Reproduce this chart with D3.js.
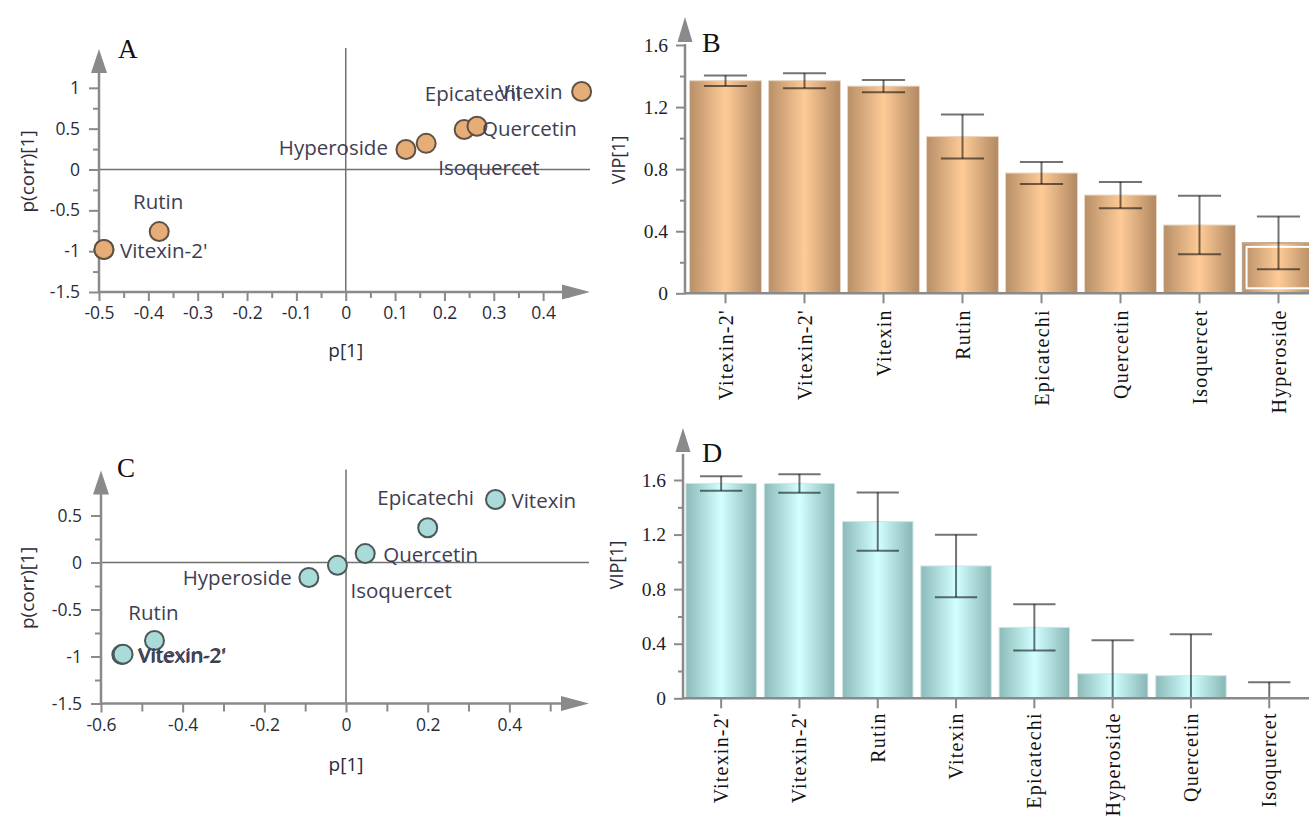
<!DOCTYPE html>
<html>
<head>
<meta charset="utf-8">
<script src="https://cdn.jsdelivr.net/npm/d3@7"></script>
<style>
  html, body { margin: 0; padding: 0; background: #fff; }
  svg { display: block; }
</style>
</head>
<body>
<svg id="fig" width="1309" height="817"></svg>
<script>
// ---- Loadings (p[1] vs p(corr)[1]) for the two OPLS-DA models ----
const compoundsA = ["Vitexin", "Epicatechi", "Quercetin", "Isoquercet", "Hyperoside", "Rutin", "Vitexin-2'", "Vitexin-2'"];
const pA     = [0.478, 0.240, 0.266, 0.163, 0.122, -0.378, -0.490, -0.490];
const pcorrA = [0.955, 0.490, 0.530, 0.320, 0.245, -0.760, -0.980, -0.980];

const compoundsC = ["Vitexin", "Epicatechi", "Quercetin", "Isoquercet", "Hyperoside", "Rutin", "Vitexin-2'", "Vitexin-2'"];
const pC     = [0.366, 0.200, 0.047, -0.021, -0.091, -0.469, -0.549, -0.546];
const pcorrC = [0.670, 0.370, 0.095, -0.030, -0.160, -0.830, -0.980, -0.975];

// ---- Variable importance (VIP[1]) with confidence intervals ----
const varsB = ["Vitexin-2'", "Vitexin-2'", "Vitexin", "Rutin", "Epicatechi", "Quercetin", "Isoquercet", "Hyperoside"];
const vipB  = [1.370, 1.370, 1.335, 1.010, 0.775, 0.633, 0.440, 0.325];
const errB  = [0.034, 0.048, 0.039, 0.142, 0.071, 0.085, 0.188, 0.170];

const varsD = ["Vitexin-2'", "Vitexin-2'", "Rutin", "Vitexin", "Epicatechi", "Hyperoside", "Quercetin", "Isoquercet"];
const vipD  = [1.575, 1.575, 1.295, 0.970, 0.520, 0.180, 0.166, 0.000];
const errD  = [0.053, 0.068, 0.214, 0.229, 0.170, 0.245, 0.303, 0.117];

// ---- Tick values ----
const xMajorA = [-0.5, -0.4, -0.3, -0.2, -0.1, 0, 0.1, 0.2, 0.3, 0.4];
const xMinorA = [-0.45, -0.35, -0.25, -0.15, -0.05, 0.05, 0.15, 0.25, 0.35, 0.45];
const yMajorA = [1, 0.5, 0, -0.5, -1, -1.5];
const yMinorA = [1.25, 0.75, 0.25, -0.25, -0.75, -1.25];

const xMajorC = [-0.6, -0.4, -0.2, 0, 0.2, 0.4];
const xMinorC = [-0.5, -0.3, -0.1, 0.1, 0.3, 0.5];
const yMajorC = [0.5, 0, -0.5, -1, -1.5];
const yMinorC = [0.25, -0.25, -0.75, -1.25];

const vipMajor = [0, 0.4, 0.8, 1.2, 1.6];
const vipMinor = [0.2, 0.6, 1.0, 1.4];

// ---------------------------------------------------------------
const svg = d3.select("#fig");
const SANS = "'Open Sans', 'Noto Sans', sans-serif";
const SERIF = "'Liberation Serif', 'DejaVu Serif', serif";
const AXIS = "#8a8a8a";
const num = d => String(+(+d).toFixed(2));

const defs = svg.append("defs");
function barGradient(id, edgeL, mid, edgeR) {
  const g = defs.append("linearGradient").attr("id", id)
    .attr("x1", 0).attr("x2", 1).attr("y1", 0).attr("y2", 0);
  g.append("stop").attr("offset", "0%").attr("stop-color", edgeL);
  g.append("stop").attr("offset", "50%").attr("stop-color", mid);
  g.append("stop").attr("offset", "100%").attr("stop-color", edgeR);
}
barGradient("gradB", "#b88f68", "#fecb97", "#b08862");
barGradient("gradD", "#8cbab9", "#d2ffff", "#88b6b5");

function upArrow(g, x, tipY, baseY, half) {
  g.append("path")
    .attr("d", `M${x},${tipY} L${x + half},${baseY} L${x - half},${baseY} Z`)
    .attr("fill", AXIS);
}
function rightArrow(g, y, baseX, tipX, half) {
  g.append("path")
    .attr("d", `M${tipX},${y} L${baseX},${y - half} L${baseX},${y + half} Z`)
    .attr("fill", AXIS);
}
function styleAxis(sel, fontFamily, fontSize, color) {
  sel.select(".domain").remove();
  sel.selectAll(".tick line").attr("stroke", AXIS).attr("stroke-width", 2);
  sel.selectAll(".tick text")
    .attr("font-family", fontFamily).attr("font-size", fontSize).attr("fill", color);
}

// ---------------- loadings scatter ----------------
function scatterPanel(cfg) {
  const g = svg.append("g");
  const x = d3.scaleLinear().domain(cfg.xDomain).range(cfg.xRange);
  const y = d3.scaleLinear().domain(cfg.yDomain).range(cfg.yRange);
  const x0 = cfg.xRange[0], x1 = cfg.xRange[1];
  const yb = cfg.yRange[0], yt = cfg.yRange[1];

  // ticks
  const xa = g.append("g").attr("transform", `translate(0,${yb})`)
    .call(d3.axisBottom(x).tickValues(cfg.xMajor).tickSize(9).tickPadding(6).tickFormat(num));
  styleAxis(xa, SANS, 17.5, "#2b2b3b");
  const xm = g.append("g").attr("transform", `translate(0,${yb})`)
    .call(d3.axisBottom(x).tickValues(cfg.xMinor).tickSize(cfg.xMinorSize).tickFormat(""));
  styleAxis(xm, SANS, 17.5, "#2b2b3b");
  const ya = g.append("g").attr("transform", `translate(${x0},0)`)
    .call(d3.axisLeft(y).tickValues(cfg.yMajor).tickSize(10).tickPadding(9).tickFormat(num));
  styleAxis(ya, SANS, 17.5, "#2b2b3b");
  const ym = g.append("g").attr("transform", `translate(${x0},0)`)
    .call(d3.axisLeft(y).tickValues(cfg.yMinor).tickSize(6).tickFormat(""));
  styleAxis(ym, SANS, 17.5, "#2b2b3b");

  // zero lines
  g.append("line").attr("x1", x(0)).attr("x2", x(0)).attr("y1", yt + 1).attr("y2", yb)
    .attr("stroke", "#707070").attr("stroke-width", 1.5);
  g.append("line").attr("x1", x0).attr("x2", x1).attr("y1", y(0)).attr("y2", y(0))
    .attr("stroke", "#707070").attr("stroke-width", 1.5);

  // axes with arrow heads
  g.append("line").attr("x1", x0).attr("x2", x0).attr("y1", yb + 1).attr("y2", yt + 20)
    .attr("stroke", AXIS).attr("stroke-width", 2.5);
  upArrow(g, x0, yt + 2, yt + 26, 8);
  g.append("line").attr("x1", x0 - 1).attr("x2", x1 - 20).attr("y1", yb).attr("y2", yb)
    .attr("stroke", AXIS).attr("stroke-width", 2.5);
  rightArrow(g, yb, x1 - 28, x1, 7.5);

  // axis titles
  g.append("text").attr("transform", `translate(${cfg.yTitleX},${(yb + yt) / 2 + 2}) rotate(-90)`)
    .attr("text-anchor", "middle").attr("dominant-baseline", "central")
    .attr("font-family", SANS).attr("font-size", 19).attr("fill", "#2b2b3b")
    .text("p(corr)[1]");
  g.append("text").attr("x", x(0)).attr("y", cfg.xTitleY)
    .attr("text-anchor", "middle").attr("dominant-baseline", "central")
    .attr("font-family", SANS).attr("font-size", 19).attr("fill", "#2b2b3b")
    .text("p[1]");

  // panel letter
  g.append("text").attr("x", cfg.letterX).attr("y", cfg.letterY)
    .attr("font-family", SERIF).attr("font-size", 27).attr("fill", "#111")
    .text(cfg.letter);

  // points
  const pts = cfg.names.map((n, i) => ({ name: n, p: cfg.xs[i], pc: cfg.ys[i] }));
  g.selectAll("circle.pt").data(pts).join("circle").attr("class", "pt")
    .attr("cx", d => x(d.p)).attr("cy", d => y(d.pc)).attr("r", 9.5)
    .attr("fill", cfg.fill).attr("stroke", cfg.stroke).attr("stroke-width", 2);

  // point labels (coincident duplicates are labelled once)
  const seen = new Set();
  const lbls = pts.filter(d => {
    const k = `${d.name}|${d.p}|${d.pc}`;
    if (seen.has(k)) return false;
    seen.add(k); return true;
  });
  g.selectAll("text.lbl").data(lbls).join("text").attr("class", "lbl")
    .attr("x", d => x(d.p) + cfg.place[d.name].dx)
    .attr("y", d => y(d.pc) + cfg.place[d.name].dy)
    .attr("text-anchor", d => cfg.place[d.name].anchor)
    .attr("dominant-baseline", "central")
    .attr("font-family", SANS).attr("font-size", 20.5).attr("fill", "#3e3e52")
    .text(d => d.name);
}

scatterPanel({
  names: compoundsA, xs: pA, ys: pcorrA,
  xDomain: [-0.5, 0.495], xRange: [99, 590],
  yDomain: [-1.5, 1.5], yRange: [292, 47],
  xMajor: xMajorA, xMinor: xMinorA, xMinorSize: 6, yMajor: yMajorA, yMinor: yMinorA,
  yTitleX: 27, xTitleY: 350, letter: "A", letterX: 118, letterY: 58,
  fill: "#e6ad77", stroke: "#5f5244",
  place: {
    "Vitexin":    { dx: -19, dy: -1, anchor: "end" },
    "Epicatechi": { dx: 9, dy: -36, anchor: "middle" },
    "Quercetin":  { dx: 5, dy: 2, anchor: "start" },
    "Isoquercet": { dx: 12, dy: 24, anchor: "start" },
    "Hyperoside": { dx: -18, dy: -2, anchor: "end" },
    "Rutin":      { dx: -1, dy: -31, anchor: "middle" },
    "Vitexin-2'": { dx: 16, dy: 0, anchor: "start" }
  }
});

scatterPanel({
  names: compoundsC, xs: pC, ys: pcorrC,
  xDomain: [-0.6, 0.595], xRange: [101, 589],
  yDomain: [-1.5, 1.0], yRange: [703.5, 468.5],
  xMajor: xMajorC, xMinor: xMinorC, xMinorSize: 8, yMajor: yMajorC, yMinor: yMinorC,
  yTitleX: 27, xTitleY: 764, letter: "C", letterX: 117, letterY: 477,
  fill: "#a9dcd8", stroke: "#4c5858",
  place: {
    "Vitexin":    { dx: 16, dy: 0, anchor: "start" },
    "Epicatechi": { dx: -2, dy: -31, anchor: "middle" },
    "Quercetin":  { dx: 18, dy: 0, anchor: "start" },
    "Isoquercet": { dx: 13, dy: 25, anchor: "start" },
    "Hyperoside": { dx: -17, dy: -1, anchor: "end" },
    "Rutin":      { dx: -1, dy: -29, anchor: "middle" },
    "Vitexin-2'": { dx: 16, dy: 0, anchor: "start" }
  }
});

// ---------------- VIP bar charts ----------------
function vipPanel(cfg) {
  const g = svg.append("g");
  const idx = d3.range(cfg.vars.length);
  const x = d3.scaleBand().domain(idx).range(cfg.xRange)
    .paddingInner(cfg.padInner).paddingOuter(cfg.padOuter);
  const y = d3.scaleLinear().domain([0, 1.6]).range(cfg.yRange);
  const ax = cfg.axisX, y0 = y(0);
  const clipId = "clip" + cfg.letter;
  defs.append("clipPath").attr("id", clipId).append("rect")
    .attr("x", ax).attr("y", 0).attr("width", 1309 - ax).attr("height", y0);

  // bars
  g.selectAll("rect.bar").data(idx).join("rect").attr("class", "bar")
    .attr("x", i => x(i)).attr("width", x.bandwidth())
    .attr("y", i => y(cfg.vip[i])).attr("height", i => y0 - y(cfg.vip[i]))
    .attr("fill", `url(#${cfg.grad})`)
    .attr("stroke", cfg.rim).attr("stroke-width", 1)
    .style("display", i => cfg.vip[i] > 0 ? null : "none");

  if (cfg.selected != null) {
    const i = cfg.selected;
    g.append("rect")
      .attr("x", x(i)).attr("width", x.bandwidth())
      .attr("y", y(cfg.vip[i])).attr("height", y0 - y(cfg.vip[i]))
      .attr("fill", "none").attr("stroke", "#b9a58f").attr("stroke-width", 1.5);
    g.append("rect")
      .attr("x", x(i) + 4).attr("width", x.bandwidth() - 8)
      .attr("y", y(cfg.vip[i]) + 4).attr("height", y0 - y(cfg.vip[i]) - 9)
      .attr("fill", "none").attr("stroke", "#ffffff").attr("stroke-width", 2);
  }

  // error bars
  const eg = g.append("g").attr("clip-path", `url(#${clipId})`)
    .attr("stroke", "#000").attr("stroke-opacity", 0.55).attr("stroke-width", 2);
  const cap = x.bandwidth() * 0.3;
  idx.forEach(i => {
    const cx = x(i) + x.bandwidth() / 2;
    const hi = y(cfg.vip[i] + cfg.err[i]), lo = y(cfg.vip[i] - cfg.err[i]);
    eg.append("line").attr("x1", cx).attr("x2", cx).attr("y1", hi).attr("y2", lo);
    eg.append("line").attr("x1", cx - cap).attr("x2", cx + cap).attr("y1", hi).attr("y2", hi);
    eg.append("line").attr("x1", cx - cap).attr("x2", cx + cap).attr("y1", lo).attr("y2", lo);
  });

  // y ticks
  const ya = g.append("g").attr("transform", `translate(${ax},0)`)
    .call(d3.axisLeft(y).tickValues(vipMajor).tickSize(9).tickPadding(8)
      .tickFormat(d => String(+d.toFixed(1))));
  styleAxis(ya, SERIF, 19.5, "#1e1e2a");
  const ym = g.append("g").attr("transform", `translate(${ax},0)`)
    .call(d3.axisLeft(y).tickValues(vipMinor).tickSize(5).tickFormat(""));
  styleAxis(ym, SERIF, 19.5, "#1e1e2a");

  // x ticks with vertical category names
  const xa = g.append("g").attr("transform", `translate(0,${y0})`)
    .call(d3.axisBottom(x).tickSize(10).tickFormat(i => cfg.vars[i]));
  styleAxis(xa, SERIF, 20, "#111");
  xa.selectAll(".tick text")
    .attr("transform", "rotate(-90)")
    .attr("text-anchor", "end")
    .attr("x", -cfg.labelGap).attr("y", 0).attr("dy", "0.35em")
    .attr("letter-spacing", 1.2);

  // axis lines
  g.append("line").attr("x1", ax).attr("x2", 1309).attr("y1", y0).attr("y2", y0)
    .attr("stroke", AXIS).attr("stroke-width", 2.5);
  g.append("line").attr("x1", ax).attr("x2", ax).attr("y1", y0 + 1).attr("y2", cfg.arrowBase + 2)
    .attr("stroke", AXIS).attr("stroke-width", 2.5);
  upArrow(g, ax, cfg.arrowTip, cfg.arrowBase, 7.5);

  // titles
  g.append("text").attr("transform", `translate(${cfg.titleX},${cfg.titleY}) rotate(-90)`)
    .attr("text-anchor", "middle").attr("dominant-baseline", "central")
    .attr("font-family", SANS).attr("font-size", 18).attr("fill", "#2b2b3b")
    .text("VIP[1]");
  g.append("text").attr("x", cfg.letterX).attr("y", cfg.letterY)
    .attr("font-family", SERIF).attr("font-size", 28).attr("fill", "#111")
    .text(cfg.letter);
}

vipPanel({
  letter: "B", vars: varsB, vip: vipB, err: errB, grad: "gradB", rim: "#e9d5c0",
  selected: 7,
  xRange: [686, 1318], padInner: 0.09, padOuter: 0.045,
  yRange: [293.3, 45], axisX: 685, arrowTip: 17, arrowBase: 42,
  labelGap: 16, titleX: 618, titleY: 160, letterX: 702, letterY: 52
});

vipPanel({
  letter: "D", vars: varsD, vip: vipD, err: errD, grad: "gradD", rim: "#cfe6e6",
  selected: null,
  xRange: [682, 1308.4], padInner: 0.1, padOuter: 0.05,
  yRange: [698.3, 480], axisX: 683, arrowTip: 428, arrowBase: 452,
  labelGap: 14, titleX: 616, titleY: 565, letterX: 702, letterY: 462
});
</script>
</body>
</html>
